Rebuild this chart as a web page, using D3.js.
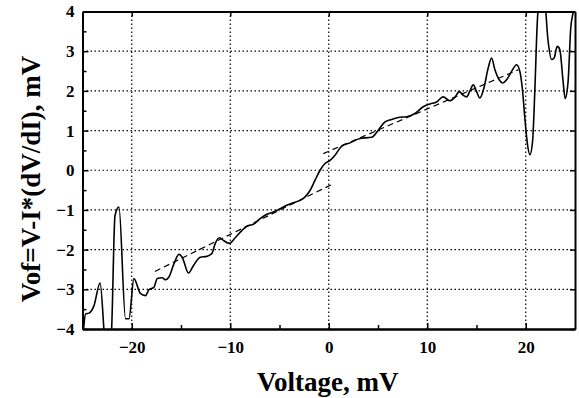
<!DOCTYPE html>
<html>
<head>
<meta charset="utf-8">
<script src="https://cdn.jsdelivr.net/npm/d3@7"></script>
<style>
  body { margin: 0; background: #fff; }
  svg { display: block; }
  .tick text { font-family: "Liberation Serif", "Times New Roman", serif; font-weight: bold; font-size: 17px; }
</style>
</head>
<body>
<svg id="chart" width="579" height="398"></svg>
<script>
// measured curve, Vof vs V (mV)
const voltage = [-25.0, -24.9, -24.69, -24.34, -23.83, -23.22, -22.82, -22.7, -22.2, -22.05, -21.7, -21.3, -20.63, -20.28, -19.78,
  -19.11, -18.6, -18.26, -17.75, -17.41, -16.91, -16.57, -16.23, -15.72, -15.21, -14.88, -14.24, -13.73, -13.05, -12.37,
  -11.87, -11.53, -11.1, -10.69, -10.08, -9.5, -8.82, -8.32, -7.65, -6.97, -6.29, -5.62, -4.94, -4.26, -3.59,
  -2.91, -2.4, -1.9, -1.39, -0.88, -0.38, 0.13, 0.64, 1.32, 2.16, 3.17, 4.36, 5.03, 5.71, 6.39,
  7.06, 7.91, 8.75, 9.59, 10.27, 10.95, 11.62, 12.3, 12.81, 13.25, 13.65, 14.0, 14.33, 14.67, 15.01,
  15.34, 15.75, 16.19, 16.53, 16.87, 17.3, 17.65, 18.05, 18.56, 19.07, 19.4, 19.68, 19.91, 20.14, 20.42,
  20.69, 20.92, 21.16, 21.4, 21.85, 22.27, 22.62, 22.88, 23.2, 23.46, 23.79, 24.0, 24.3, 24.57, 24.8, 25.0]
const vof = [-4.3, -4.02, -3.62, -3.6, -3.41, -2.84, -4.04, -4.5, -4.5, -4.04, -1.14, -0.93, -3.74, -3.74, -2.73,
  -3.11, -3.16, -3.01, -2.95, -2.73, -2.71, -2.76, -2.69, -2.36, -2.12, -2.19, -2.59, -2.4, -2.19, -2.17,
  -2.1, -1.85, -1.7, -1.77, -1.84, -1.7, -1.52, -1.41, -1.36, -1.22, -1.11, -1.05, -0.97, -0.88, -0.82,
  -0.76, -0.67, -0.51, -0.25, 0.0, 0.17, 0.25, 0.38, 0.61, 0.69, 0.8, 0.83, 1.01, 1.22, 1.28,
  1.33, 1.35, 1.43, 1.6, 1.67, 1.72, 1.85, 1.75, 1.84, 1.98, 1.89, 1.85, 2.0, 2.15, 1.98,
  1.82, 2.07, 2.58, 2.83, 2.53, 2.28, 2.2, 2.28, 2.49, 2.66, 2.49, 1.99, 1.31, 0.72, 0.39,
  0.72, 1.99, 3.67, 4.4, 4.4, 3.25, 2.79, 2.83, 3.12, 3.04, 2.24, 1.81, 2.24, 3.59, 3.96, 4.2]

// linear fits (dashed)
const fitLowV = [-17.65, 0.3]
const fitLowY = [-2.55, -0.36]
const fitHighV = [-0.55, 19.23]
const fitHighY = [0.42, 2.53]

const xMajor = [-20, -10, 0, 10, 20]
const xMinor = [-15, -5, 5, 15]
const yMajor = [-4, -3, -2, -1, 0, 1, 2, 3, 4]
const yMinor = [-3.5, -2.5, -1.5, -0.5, 0.5, 1.5, 2.5, 3.5]

const plotLeft = 82.5, plotRight = 575, plotTop = 11.5, plotBottom = 329
const x = d3.scaleLinear().domain([-25, 25]).range([plotLeft, plotRight])
const y = d3.scaleLinear().domain([-4, 4]).range([plotBottom, plotTop])

const svg = d3.select("#chart")

svg.append("clipPath").attr("id", "clip")
  .append("rect")
  .attr("x", plotLeft).attr("y", plotTop)
  .attr("width", plotRight - plotLeft).attr("height", plotBottom - plotTop)

// dotted grid
const grid = svg.append("g")
  .attr("stroke", "#000")
  .attr("stroke-width", 1.2)
  .attr("stroke-dasharray", "1.5,2.5")
grid.selectAll(".gx").data(xMajor).join("line")
  .attr("x1", d => x(d)).attr("x2", d => x(d))
  .attr("y1", plotTop).attr("y2", plotBottom)
grid.selectAll(".gy").data(yMajor.slice(1, -1)).join("line")
  .attr("x1", plotLeft).attr("x2", plotRight)
  .attr("y1", d => y(d)).attr("y2", d => y(d))

const plot = svg.append("g").attr("clip-path", "url(#clip)")

const line = d3.line()
  .x(d => x(d[0]))
  .y(d => y(d[1]))

plot.append("path")
  .datum(d3.zip(fitLowV, fitLowY))
  .attr("d", line)
  .attr("fill", "none")
  .attr("stroke", "#000")
  .attr("stroke-width", 1.2)
  .attr("stroke-dasharray", "6,4")

plot.append("path")
  .datum(d3.zip(fitHighV, fitHighY))
  .attr("d", line)
  .attr("fill", "none")
  .attr("stroke", "#000")
  .attr("stroke-width", 1.2)
  .attr("stroke-dasharray", "6,4")

plot.append("path")
  .datum(d3.zip(voltage, vof))
  .attr("d", line.curve(d3.curveMonotoneX))
  .attr("fill", "none")
  .attr("stroke", "#000")
  .attr("stroke-width", 1.6)

// axes, ticks pointing inward
function styleAxis(g) {
  g.select(".domain").attr("stroke", "#000").attr("stroke-width", 2)
  g.selectAll(".tick line").attr("stroke", "#000").attr("stroke-width", 1.5)
}

svg.append("g")
  .attr("transform", `translate(0,${plotBottom})`)
  .call(d3.axisBottom(x).tickValues(xMajor).tickSize(-6).tickSizeOuter(0).tickPadding(12).tickFormat(d3.format("d")))
  .call(styleAxis)
svg.append("g")
  .attr("transform", `translate(0,${plotBottom})`)
  .call(d3.axisBottom(x).tickValues(xMinor).tickSize(-4).tickSizeOuter(0).tickFormat(""))
  .call(styleAxis)

svg.append("g")
  .attr("transform", `translate(0,${plotTop})`)
  .call(d3.axisTop(x).tickValues(xMajor).tickSize(-5).tickSizeOuter(0).tickFormat(""))
  .call(styleAxis)

svg.append("g")
  .attr("transform", `translate(${plotLeft},0)`)
  .call(d3.axisLeft(y).tickValues(yMajor).tickSize(-6).tickSizeOuter(0).tickPadding(8).tickFormat(d3.format("d")))
  .call(styleAxis)
svg.append("g")
  .attr("transform", `translate(${plotLeft},0)`)
  .call(d3.axisLeft(y).tickValues(yMinor).tickSize(-4).tickSizeOuter(0).tickFormat(""))
  .call(styleAxis)

svg.append("g")
  .attr("transform", `translate(${plotRight},0)`)
  .call(d3.axisRight(y).tickValues(yMajor).tickSize(-5).tickSizeOuter(0).tickFormat(""))
  .call(styleAxis)

// axis titles
svg.append("text")
  .attr("x", (plotLeft + plotRight) / 2 - 1)
  .attr("y", 391)
  .attr("text-anchor", "middle")
  .style("font-family", "'Liberation Serif', 'Times New Roman', serif")
  .style("font-weight", "bold")
  .style("font-size", "27px")
  .text("Voltage, mV")

svg.append("text")
  .attr("transform", "translate(40,179) rotate(-90)")
  .attr("text-anchor", "middle")
  .style("font-family", "'Liberation Serif', 'Times New Roman', serif")
  .style("font-weight", "bold")
  .style("font-size", "27px")
  .text("Vof=V-I*(dV/dI), mV")
</script>
</body>
</html>
